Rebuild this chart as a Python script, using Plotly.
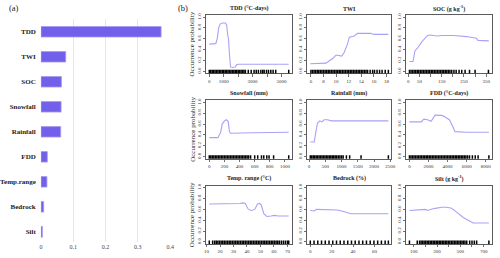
import plotly.graph_objects as go

W, H = 500, 258

# ---------------- Panel (a) data ----------------
importance_vars = ["TDD", "TWI", "SOC", "Snowfall", "Rainfall", "FDD", "Temp.range", "Bedrock", "Silt"]
importance_vals = [0.372, 0.0765, 0.0632, 0.0622, 0.061, 0.0195, 0.0183, 0.0082, 0.0043]
importance_ticks = [0, 0.1, 0.2, 0.3, 0.4]
importance_labels = ["0", "0.1", "0.2", "0.3", "0.4"]

# ---------------- Panel (b) data ----------------
titles = ["TDD (°C-days)", "TWI", "SOC (g kg<sup>-1</sup>)",
          "Snowfall (mm)", "Rainfall (mm)", "FDD (°C-days)",
          "Temp. range (°C)", "Bedrock (%)", "Silt (g kg<sup>-1</sup>)"]

tdd_x = [0, 300, 450, 550, 650, 750, 900, 1100, 1200, 1280, 1330, 1400, 1470, 1600, 1800, 1900, 2000, 3000, 4000, 5000, 5500]
tdd_y = [0.50, 0.50, 0.51, 0.60, 0.80, 0.87, 0.89, 0.89, 0.86, 0.66, 0.60, 0.30, 0.08, 0.07, 0.08, 0.12, 0.13, 0.13, 0.13, 0.13, 0.13]
tdd_rug = [0, 100, 200, 300, 400, 500, 600, 700, 800, 900, 1000, 1100, 1200, 1300, 1400, 1500, 1600, 1700, 1800,
           1900, 2000, 2100, 2200, 2300, 2400, 2500, 2700, 2900, 3100, 3250, 3400, 3570, 3700, 3800, 3960, 4100,
           4260, 4420, 4600, 5500]
tdd_ticks = [0, 1000, 3000, 5000]
tdd_minor = [2000, 4000]

twi_x = [5.9, 8.0, 8.4, 9.0, 9.5, 10.0, 10.5, 10.9, 11.3, 11.8, 12.1, 12.9, 13.4, 15.5, 16.0, 18.3]
twi_y = [0.14, 0.14, 0.15, 0.20, 0.24, 0.30, 0.29, 0.28, 0.35, 0.50, 0.63, 0.65, 0.70, 0.70, 0.68, 0.68]
twi_rug = [6.0, 6.25, 6.5, 6.75, 7.0, 7.25, 7.5, 7.75, 8.0, 8.25, 8.5, 8.75, 9.0, 9.25, 9.5, 9.75, 10.0, 10.25,
           10.5, 10.75, 11.0, 11.25, 11.5, 11.75, 12.0, 12.25, 12.5, 12.75, 13.0, 13.25, 13.5, 13.75, 14.0, 14.25,
           14.5, 14.75, 15.0, 15.4, 15.8, 16.1, 16.5, 16.9, 17.3, 17.8, 18.3]
twi_ticks = [6, 8, 10, 12, 14, 16, 18]
twi_minor = []

soc_x = [5, 21, 30, 40, 62, 87, 98, 129, 151, 203, 262, 306, 313, 357, 362]
soc_y = [0.18, 0.18, 0.38, 0.42, 0.55, 0.66, 0.67, 0.65, 0.66, 0.66, 0.64, 0.61, 0.57, 0.56, 0.56]
soc_rug = [5, 12, 19, 26, 33, 40, 47, 54, 61, 68, 75, 82, 89, 96, 103, 110, 117, 124, 131, 138, 145, 152, 159,
           166, 173, 180, 187, 195, 205, 215, 228, 240, 255, 275, 300, 360]
soc_ticks = [0, 50, 150, 250, 350]
soc_minor = [100, 200, 300]

snow_x = [0, 114, 150, 171, 200, 223, 250, 266, 280, 305, 600, 1050]
snow_y = [0.35, 0.35, 0.45, 0.60, 0.66, 0.68, 0.65, 0.46, 0.43, 0.43, 0.44, 0.45]
snow_rug = [0, 20, 40, 60, 80, 100, 120, 140, 160, 180, 200, 220, 240, 260, 280, 300, 320, 340, 360, 380, 400,
            420, 440, 460, 480, 500, 520, 546, 600, 640, 690, 720, 760, 790, 850, 1050]
snow_ticks = [0, 200, 400, 600, 800, 1000]
snow_minor = []

rain_x = [40, 160, 210, 262, 335, 400, 465, 565, 690, 1500, 2440]
rain_y = [0.27, 0.27, 0.45, 0.62, 0.66, 0.64, 0.68, 0.68, 0.66, 0.66, 0.66]
rain_rug = [40, 85, 130, 175, 220, 265, 310, 355, 400, 445, 490, 535, 580, 625, 670, 715, 760, 805, 850, 900, 950,
            1000, 1050, 1150, 1250, 1600, 2440]
rain_ticks = [0, 500, 1000, 1500, 2000, 2500]
rain_minor = []

fdd_x = [0, 1240, 1510, 1900, 2270, 2710, 3000, 3400, 3740, 4190, 4530, 4780, 6000, 8330]
fdd_y = [0.64, 0.64, 0.69, 0.68, 0.65, 0.77, 0.76, 0.76, 0.73, 0.68, 0.56, 0.46, 0.45, 0.45]
fdd_rug = [0, 160, 320, 480, 640, 800, 960, 1120, 1280, 1440, 1600, 1760, 1920, 2080, 2240, 2400, 2560, 2720,
           2880, 3040, 3200, 3360, 3520, 3680, 3840, 4000, 4160, 4320, 4480, 4640, 4800, 4960, 5120, 5280, 5440,
           5600, 5760, 5920, 6100, 6300, 6600, 6900, 7200, 8330]
fdd_ticks = [0, 2000, 4000, 6000, 8000]
fdd_minor = []

temp_x = [12, 30, 34.8, 37, 38.7, 41, 43.4, 45.8, 47.8, 49.4, 50.6, 52.5, 54.7, 57.9, 60.4, 63, 71]
temp_y = [0.70, 0.70, 0.71, 0.72, 0.71, 0.60, 0.58, 0.60, 0.70, 0.71, 0.68, 0.52, 0.47, 0.48, 0.49, 0.48, 0.48]
temp_rug = [12, 14.5, 16, 17.2, 18.4, 19.6, 20.8, 22, 23.2, 24.4, 25.6, 26.8, 28, 29.2, 30.4, 31.6, 32.8, 34,
            35.2, 36.4, 37.6, 38.8, 40, 41.2, 42.4, 43.6, 44.8, 46, 47.2, 48.4, 49.6, 50.8, 52, 53.2, 54.4, 55.6,
            56.8, 58, 59.2, 60.4, 61.6, 62.8, 64, 65.5, 67, 68.5, 70, 71]
temp_ticks = [10, 20, 30, 40, 50, 60, 70]
temp_minor = []

bed_x = [0, 3.6, 5.8, 20.4, 25, 29.5, 35.6, 38, 73]
bed_y = [0.58, 0.57, 0.60, 0.60, 0.59, 0.57, 0.53, 0.52, 0.52]
bed_rug = [0, 3.5, 7, 10.5, 14, 17.5, 21, 24.5, 28, 31.5, 35, 38.5, 42, 45.5, 49, 52.5, 56, 59.5, 63, 66.5, 70, 73]
bed_ticks = [0, 20, 40, 60]
bed_minor = []

silt_x = [63, 156, 199, 220, 241, 284, 341, 383, 425, 468, 525, 567, 610, 745]
silt_y = [0.58, 0.59, 0.60, 0.58, 0.60, 0.62, 0.64, 0.64, 0.62, 0.55, 0.45, 0.40, 0.35, 0.35]
silt_rug = [63, 130, 150, 163, 176, 189, 202, 215, 228, 241, 254, 267, 280, 293, 306, 319, 332, 345, 358, 371,
            384, 397, 410, 423, 436, 449, 462, 475, 488, 501, 514, 527, 540, 555, 580, 600, 620, 640, 745]
silt_ticks = [100, 300, 500, 700]
silt_minor = [200, 400, 600]

prob_ticks = [0, 0.2, 0.4, 0.6, 0.8, 1.0]
prob_labels = ["0.0", "0.2", "0.4", "0.6", "0.8", "1.0"]

panels = [
    (tdd_x, tdd_y, tdd_rug, tdd_ticks, tdd_minor),
    (twi_x, twi_y, twi_rug, twi_ticks, twi_minor),
    (soc_x, soc_y, soc_rug, soc_ticks, soc_minor),
    (snow_x, snow_y, snow_rug, snow_ticks, snow_minor),
    (rain_x, rain_y, rain_rug, rain_ticks, rain_minor),
    (fdd_x, fdd_y, fdd_rug, fdd_ticks, fdd_minor),
    (temp_x, temp_y, temp_rug, temp_ticks, temp_minor),
    (bed_x, bed_y, bed_rug, bed_ticks, bed_minor),
    (silt_x, silt_y, silt_rug, silt_ticks, silt_minor),
]

# ---------------- styling ----------------
SERIF = "Liberation Serif, Times New Roman, serif"
BAR_COLOR = "#7360EA"
BAR_EDGE = "#A59BF2"
LINE_COLOR = "#A8A2F7"
AX_COLOR = "#333333"

def px_x(a, b):
    return [a / W, b / W]

def px_y(top, bottom):
    return [1 - bottom / H, 1 - top / H]

fig = go.Figure()
layout = dict(
    width=W, height=H, margin=dict(l=0, r=0, t=0, b=0),
    paper_bgcolor="white", plot_bgcolor="white", showlegend=False,
    font=dict(family=SERIF, color="#222"),
)

# Panel (a)
fig.add_trace(go.Bar(
    x=importance_vals, y=importance_vars, orientation="h", width=0.42,
    marker=dict(color=BAR_COLOR, line=dict(color=BAR_EDGE, width=0.8)),
    xaxis="x", yaxis="y", hoverinfo="skip",
))
layout["xaxis"] = dict(
    domain=px_x(38.3, 170), range=[-0.0008, 0.4015], tickvals=importance_ticks,
    ticktext=importance_labels, showgrid=True, gridcolor="#E6E6E6", gridwidth=1,
    zeroline=False, showline=False, ticks="", tickfont=dict(size=6, color="#444", family=SERIF),
    anchor="y",
)
layout["yaxis"] = dict(
    domain=px_y(17.4, 242), categoryorder="array", categoryarray=importance_vars,
    range=[8.41, -0.5], showgrid=False, zeroline=False, showline=False, ticks="",
    tickfont=dict(size=7, color="#222", family=SERIF, weight="bold"), anchor="x",
    ticklabelstandoff=4,
)

# Panel (b)
col_px = [(206, 293), (308.5, 394), (409, 496)]
row_px = [(13, 72), (99, 158), (185, 244)]
title_y = [7, 92.5, 178]

annotations = [
    dict(text="(a)", x=4 / W, y=1 - 6 / H, xref="paper", yref="paper", xanchor="left", yanchor="middle",
         showarrow=False, font=dict(size=8.5, family=SERIF, color="#222")),
    dict(text="(b)", x=175 / W, y=1 - 6 / H, xref="paper", yref="paper", xanchor="left", yanchor="middle",
         showarrow=False, font=dict(size=8.5, family=SERIF, color="#222")),
]

for i, (xs, ys, rug, tv, mv) in enumerate(panels):
    r, c = divmod(i, 3)
    n = i + 2
    xa, ya = f"x{n}", f"y{n}"
    lo = min(min(xs), min(rug))
    hi = max(max(xs), max(rug))
    pad = 0.04 * (hi - lo)
    fig.add_trace(go.Scatter(x=xs, y=ys, mode="lines", line=dict(color=LINE_COLOR, width=1.1),
                             xaxis=xa, yaxis=ya, hoverinfo="skip"))
    fig.add_trace(go.Scatter(x=rug, y=[-0.012] * len(rug), mode="markers",
                             marker=dict(symbol="line-ns", size=3, line=dict(color="black", width=1.5)),
                             xaxis=xa, yaxis=ya, hoverinfo="skip", cliponaxis=True))
    xdef = dict(
        domain=px_x(*col_px[c]), range=[lo - pad, hi + pad], tickvals=tv,
        showgrid=False, zeroline=False, showline=True, mirror=True, linecolor=AX_COLOR, linewidth=0.8,
        ticks="outside", ticklen=2.5, tickwidth=0.7, tickcolor=AX_COLOR,
        tickfont=dict(size=5, family=SERIF, color="#333"), anchor=ya,
    )
    if mv:
        xdef["minor"] = dict(tickvals=mv, ticks="outside", ticklen=2.5, tickwidth=0.7, tickcolor=AX_COLOR,
                             showgrid=False)
    layout[f"xaxis{n}"] = xdef
    layout[f"yaxis{n}"] = dict(
        domain=px_y(*row_px[r]), range=[-0.04, 1.04], tickvals=prob_ticks, ticktext=prob_labels,
        showgrid=False, zeroline=False, showline=True, mirror=True, linecolor=AX_COLOR, linewidth=0.8,
        ticks="outside", ticklen=2.5, tickwidth=0.7, tickcolor=AX_COLOR, tickangle=-90,
        tickfont=dict(size=5, family=SERIF, color="#333"), anchor=xa,
    )
    cx = (col_px[c][0] + col_px[c][1]) / 2
    annotations.append(dict(text=f"<b>{titles[i]}</b>", x=cx / W, y=1 - title_y[r] / H, xref="paper",
                            yref="paper", xanchor="center", yanchor="middle", showarrow=False,
                            font=dict(size=6, family=SERIF, color="#222")))
    if c == 0:
        cy = (row_px[r][0] + row_px[r][1]) / 2
        annotations.append(dict(text="Occurrence probability", x=192 / W, y=1 - cy / H, xref="paper",
                                yref="paper", xanchor="center", yanchor="middle", textangle=-90,
                                showarrow=False, font=dict(size=7, family=SERIF, color="#222")))

layout["annotations"] = annotations
fig.update_layout(**layout)
fig.write_html("out.html", config={"displayModeBar": False, "staticPlot": True},
               post_script="document.body.style.margin='0';document.body.style.overflow='hidden';")
